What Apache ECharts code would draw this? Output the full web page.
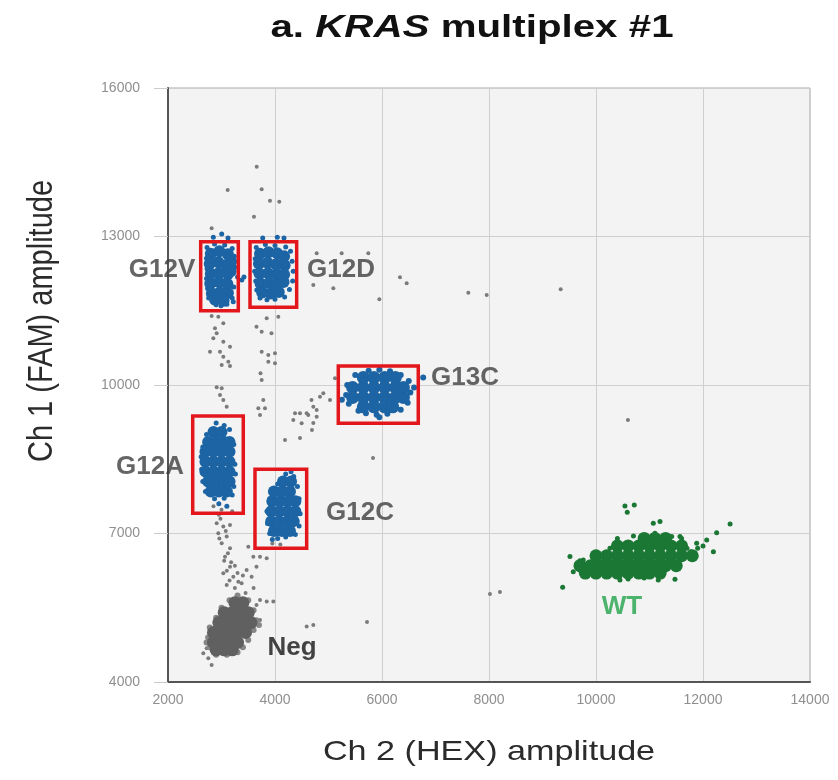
<!DOCTYPE html>
<html><head><meta charset="utf-8">
<script src="https://cdn.jsdelivr.net/npm/echarts/dist/echarts.min.js"></script>
<style>html,body{margin:0;padding:0;background:#fff}#c{width:838px;height:780px}</style>
</head><body><div id="c"></div><script>
// ---- axes ----
const xMin = 2000, xMax = 14000, xStep = 2000;
const yMin = 4000, yMax = 16000, yStep = 3000;

// ---- gray outliers (HEX, FAM) ----
const grayOutliers = [
[3658,14410],[3116,13940],[3751,13954],[3906,13724],[4080,13703],[3607,13400],[2816,13166],
[4779,12660],[5246,12660],[5744,12660],[4716,12020],[5090,11954],[6336,12176],[6461,12055],[5950,11732],[7613,11866],[7957,11819],[9340,11934],
[2816,11394],[2940,11380],[3034,11246],[2878,11146],[2910,11045],[2847,10944],[3034,10876],[3159,10774],[2785,10673],[2972,10673],[3034,10572],[3127,10471],[3004,10405],[3159,10384],[2910,9954],[3004,9934],[2972,9799],[3034,9698],[3097,9562],
[3845,11348],[4062,11380],[3654,11178],[3751,11077],[3934,11045],[3751,10673],[3875,10607],[4000,10641],[3875,10471],[4000,10438],[3729,10236],[3751,10102],[3781,9698],[3688,9530],[3813,9530],[3720,9395],
[4682,9698],[4467,9429],[4622,9395],[4342,9294],[4779,9496],[4374,9429],[4592,9429],[4716,9562],[4841,9765],[4903,9832],[5028,9698],[4779,9361],[4498,9227],[5121,10136],[4716,9233],[4467,8930],[4691,9091],[5832,8526],[4187,8890],
[2850,7550],[3000,7480],[3200,7450],[2950,7380],[3950,6800],[4100,6780],
[2910,7207],[3034,7140],[3159,7174],[2940,7005],[3097,6938],[3004,6803],[3159,6701],[3065,6532],[3159,6330],[3034,6195],[3221,6128],[3097,5960],[3314,6027],[3501,6734],[3595,6532],[3720,6532],[3470,6264],[3654,6330],[3845,6499],[3563,6128],[3376,5994],[3720,5658],[3845,5624],[3969,5624],[3654,5557],[4592,5119],[4716,5153],[3720,5253],
[2980,7300],[3080,7050],[2960,6900],[3120,6600],[3050,6450],[3180,6420],[3100,6250],[3250,6350],[3300,6200],[3400,6150],[3150,6050],[3250,5900],[3450,5800],[3600,5900],
[2660,4580],[2753,4479],[2816,4345],[2723,4682],
[8205,5819],[8018,5779],[5720,5213],[10597,9294]
];

// ---- G12V ----
const g12vCore = [[2800,12650],[2960,12700],[3120,12640],[2780,12450],[2940,12480],[3100,12430],[3180,12500],[2800,12250],[2960,12270],[3120,12240],[3170,12300],[2790,12050],[2950,12080],[3110,12040],[2820,11850],[2970,11870],[3120,11860],[2880,11720],[3040,11700]];
const g12vEdge = [[2730,12780],[2870,12850],[3060,12830],[3200,12760],[2720,12560],[3240,12600],[2730,12350],[3250,12380],[3300,12180],[2720,12150],[2740,11950],[3230,11980],[2760,11760],[3200,11760],[2900,11620],[3100,11630],[3220,11680],[2990,11600],[3004,13051],[2847,12984],[3121,12970],[3380,12120],[3420,12180]];
// ---- G12D ----
const g12dCore = [[3720,12650],[3880,12680],[4040,12660],[4170,12600],[3700,12450],[3860,12470],[4020,12440],[4180,12420],[3710,12250],[3870,12260],[4030,12240],[4170,12230],[3730,12050],[3890,12060],[4040,12040],[4160,12080],[3760,11870],[3920,11850],[4070,11880]];
const g12dEdge = [[3650,12780],[3820,12840],[4000,12820],[4200,12790],[4290,12700],[3630,12550],[4320,12500],[3620,12300],[4340,12300],[4330,12100],[3640,12100],[3660,11920],[4270,11930],[3720,11760],[3850,11720],[4000,11730],[4180,11780],[3770,12970],[4043,12984],[4168,12970]];
// ---- G13C ----
const g13cCore = [[5650,10150],[5850,10150],[6050,10150],[6250,10150],[5450,9950],[5650,9950],[5850,9950],[6050,9950],[6250,9950],[6400,9950],[5450,9750],[5650,9750],[5850,9750],[6050,9750],[6250,9750],[6400,9750],[5650,9560],[5850,9560],[6050,9560],[6200,9560]];
const g13cEdge = [[5350,10000],[5330,9800],[5380,9620],[5500,10200],[5560,9480],[5750,10290],[5950,10310],[6150,10280],[6350,10200],[6500,10080],[6530,9850],[6480,9640],[6350,9500],[6100,9420],[5900,9400],[5700,9430],[5950,9350],[6600,9950],[5250,9700],[6770,10150]];
// ---- G12A ----
const g12aCore = [[2850,9050],[3000,9050],[2750,8850],[2900,8850],[3050,8850],[3150,8850],[2700,8650],[2850,8650],[3000,8650],[3150,8650],[2700,8450],[2850,8450],[3000,8450],[3150,8450],[2700,8250],[2850,8250],[3000,8250],[3150,8250],[2750,8050],[2900,8050],[3050,8050],[3150,8050],[2800,7850],[2950,7850],[3100,7850]];
const g12aEdge = [[2900,9230],[3050,9180],[3150,9100],[2720,9000],[2650,8750],[3230,8800],[2620,8550],[3250,8400],[2630,8300],[3260,8200],[2650,8050],[3230,7950],[2700,7850],[2870,7700],[3050,7710],[3200,7780],[2950,7600],[3100,7550]];
// ---- G12C ----
const g12cCore = [[4150,8050],[4300,8050],[3980,7850],[4130,7850],[4280,7850],[3950,7650],[4100,7650],[4250,7650],[4380,7650],[3930,7450],[4080,7450],[4230,7450],[4380,7450],[3930,7250],[4080,7250],[4230,7250],[4350,7250],[3980,7050],[4130,7050],[4280,7050]];
const g12cEdge = [[4200,8200],[4350,8150],[4050,8000],[4420,7950],[3900,7700],[4450,7700],[3850,7450],[4470,7400],[3860,7200],[4450,7150],[3900,7000],[4380,6980],[4050,6900],[4200,6930],[3950,6880],[4300,8250]];
// ---- Neg ----
const negCore = [[3250,5600],[3400,5600],[3050,5400],[3200,5400],[3350,5400],[3500,5400],[2950,5200],[3100,5200],[3250,5200],[3400,5200],[3550,5200],[2850,5000],[3000,5000],[3150,5000],[3300,5000],[3450,5000],[2850,4800],[3000,4800],[3150,4800],[3300,4800],[2900,4650],[3050,4650],[3200,4650]];
const negEdge = [[3300,5750],[3500,5650],[3150,5650],[3000,5500],[3600,5450],[2900,5300],[3650,5250],[2780,5100],[3600,5050],[2750,4900],[3500,4850],[2780,4700],[3400,4700],[2900,4550],[3100,4550],[3300,4600],[2720,4800],[3700,5150]];
// ---- WT ----
const wtCore = [[10400,6750],[10600,6750],[10800,6750],[11000,6750],[11200,6750],[11400,6750],[11600,6750],[10900,6900],[11100,6900],[11300,6900],[10000,6550],[10200,6550],[10400,6550],[10600,6550],[10800,6550],[11000,6550],[11200,6550],[11400,6550],[11600,6550],[11800,6550],[9700,6350],[9900,6350],[10100,6350],[10300,6350],[10500,6350],[10700,6350],[10900,6350],[11100,6350],[11300,6350],[11500,6350],[9800,6200],[10000,6200],[10200,6200],[10400,6200],[10600,6200],[10800,6200],[11000,6200],[11200,6200]];
const wtEdge = [[9513,6533],[9762,6466],[9575,6229],[9377,5913],[10448,6062],[11164,6062],[11476,6075],[10261,6701],[11071,7207],[11196,7241],[11102,7005],[11414,6938],[11570,6938],[11882,6803],[12069,6870],[12194,6633],[12255,7016],[12506,7193],[10541,7556],[10715,7577],[10584,7429],[11770,6633],[9700,6264],[9949,6330],[11582,6533],[9700,6450],[9800,6300],[11700,6700],[11800,6550],[10400,6900],[10700,6950],[11000,6920],[11300,6900],[9950,6150],[10600,6080],[10900,6100],[11200,6150],[11500,6300],[11600,6900],[11900,6700],[12000,6750]];

// ---- boxes: [x1, y1, x2, y2] ----
const boxNames = ['G12V','G12D','G13C','G12A','G12C'];
const boxes = [[2611,12895,3314,11501],[3533,12895,4405,11570],[5183,10384,6678,9227],[2462,9374,3407,7409],[3626,8298,4592,6702]];

// ---- cluster labels ----
const labelNames = ['G12V','G12D','G13C','G12A','G12C','Neg','WT'];
const labelPos = [[1888,12324],[5234,12324],[7551,10142],[1664,8344],[5589,7415],[4318,4688],[10485,5516]];

const BLUE = '#1c64a4', GREEN = '#1b7734', GRAY = '#7b7b7b';
const labelColor = {Neg:'#151515', WT:'#22a34b'};

function pts(data, color, size, z){
  return {type:'scatter', data, symbolSize:size, itemStyle:{color, opacity:1}, z:z||2, silent:true};
}

const chart = echarts.init(document.getElementById('c'), null, {renderer:'canvas'});
chart.setOption({
  animation:false,
  backgroundColor:'#ffffff',
  grid:{left:168, top:88, right:28, bottom:98, show:true, backgroundColor:'#f3f3f3', borderColor:'#a8a8a8', borderWidth:1},
  xAxis:{type:'value', min:xMin, max:xMax, interval:xStep,
    axisLine:{show:true, onZero:false, lineStyle:{color:'#555', width:2}},
    axisTick:{show:false},
    splitLine:{show:true, lineStyle:{color:'#cfcfcf', width:1}},
    axisLabel:{formatter:v=>String(v), color:'#8f8f8f', fontSize:14, margin:11, fontFamily:'Liberation Sans'}},
  yAxis:{type:'value', min:yMin, max:yMax, interval:yStep,
    axisLine:{show:true, onZero:false, lineStyle:{color:'#555', width:2}},
    axisTick:{show:true, length:14, lineStyle:{color:'#cccccc'}},
    splitLine:{show:true, lineStyle:{color:'#cfcfcf', width:1}},
    axisLabel:{formatter:v=>String(v), color:'#8f8f8f', fontSize:14, margin:28, fontFamily:'Liberation Sans'}},
  series:[
    pts(grayOutliers, GRAY, 4),
    pts(negEdge, '#868686', 6),
    pts(negCore, '#606060', 13),
    pts(g12vEdge, BLUE, 5), pts(g12vCore, BLUE, 12),
    pts(g12dEdge, BLUE, 5), pts(g12dCore, BLUE, 12),
    pts(g13cEdge, BLUE, 6), pts(g13cCore, BLUE, 13),
    pts(g12aEdge, BLUE, 5), pts(g12aCore, BLUE, 12),
    pts(g12cEdge, BLUE, 5), pts(g12cCore, BLUE, 12),
    pts(wtEdge, GREEN, 5), pts(wtCore, GREEN, 13),
    {type:'custom', z:10, silent:true, data:boxes.map((b,i)=>({name:boxNames[i], value:b})),
      renderItem:(params, api)=>{
        const p1 = api.coord([api.value(0), api.value(1)]);
        const p2 = api.coord([api.value(2), api.value(3)]);
        return {type:'rect', shape:{x:p1[0], y:p1[1], width:p2[0]-p1[0], height:p2[1]-p1[1]},
          style:{fill:null, stroke:'#e3161c', lineWidth:3.5}};
      }},
    {type:'scatter', z:11, silent:true, clip:false, symbolSize:1,
      itemStyle:{color:'rgba(0,0,0,0)'},
      data:labelNames.map((n,i)=>({name:n, value:labelPos[i],
        label:{color:labelColor[n]||'#3f3f3f'}})),
      label:{show:true, position:'inside', formatter:p=>p.name, fontSize:26, fontWeight:'bold', fontFamily:'Liberation Sans'}}
  ],
  graphic:[
    {type:'text', x:472, y:28, scaleX:1.3, style:{text:'{n|a. }{i|KRAS}{n| multiplex #1}', align:'center', verticalAlign:'middle',
      rich:{n:{fontSize:31, fontWeight:'bold', fontFamily:'Liberation Sans', fill:'#111'}, i:{fontSize:31, fontWeight:'bold', fontStyle:'italic', fontFamily:'Liberation Sans', fill:'#111'}}}},
    {type:'text', x:489, y:752, scaleX:1.22, style:{text:'Ch 2 (HEX) amplitude', align:'center', verticalAlign:'middle', fontSize:28, fontFamily:'Liberation Sans', fill:'#2b2b2b'}},
    {type:'text', x:42, y:321, rotation:Math.PI/2, scaleY:1.2, style:{text:'Ch 1 (FAM) amplitude', align:'center', verticalAlign:'middle', fontSize:29, fontFamily:'Liberation Sans', fill:'#2b2b2b'}}
  ]
});
</script></body></html>
